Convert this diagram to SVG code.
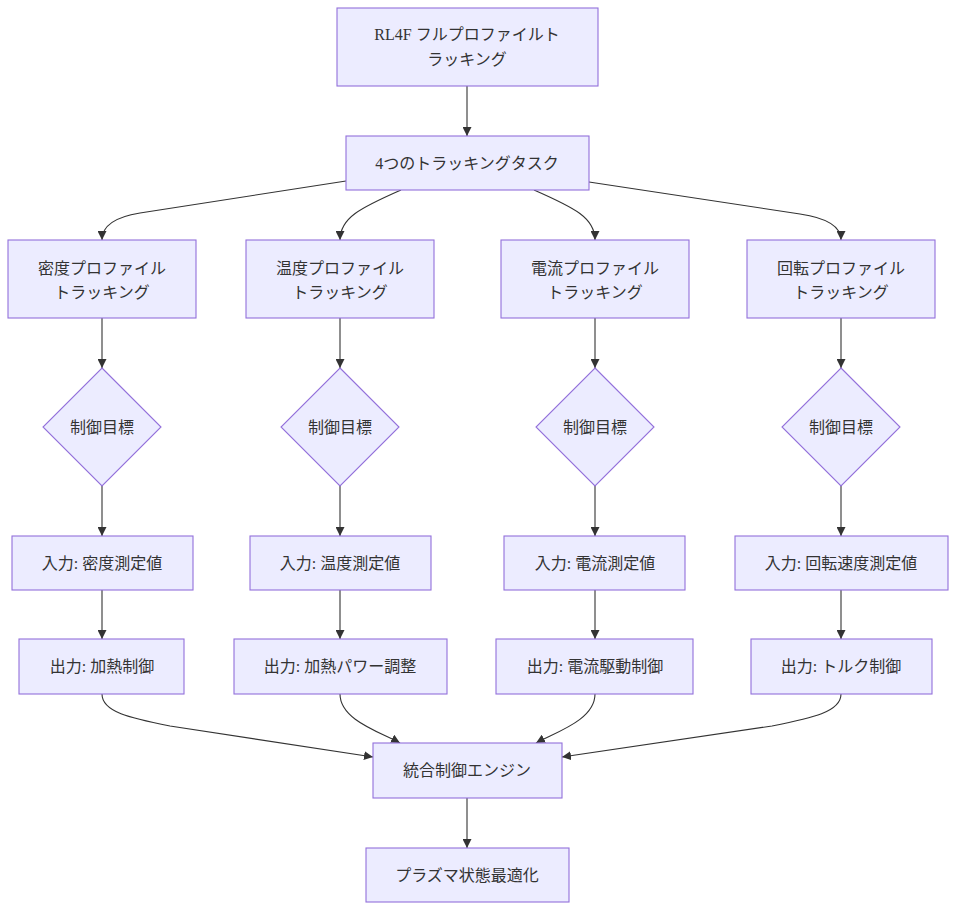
<svg xmlns="http://www.w3.org/2000/svg" width="956" height="910" viewBox="0 0 956 910">
<style>
.n{fill:#ECECFF;stroke:#9370DB;stroke-width:1.1}
.t{font-family:"Liberation Serif","Noto Sans CJK JP",serif;font-size:16px;fill:#333;text-anchor:middle;dominant-baseline:central}
.e{fill:none;stroke:#333;stroke-width:1.1;marker-end:url(#arr)}
</style>
<defs>
<marker id="arr" viewBox="0 0 10 10" refX="10" refY="5" markerUnits="userSpaceOnUse" markerWidth="9" markerHeight="9" orient="auto">
<path d="M0,0 L10,5 L0,10 z" fill="#333"/>
</marker>
</defs>
<rect width="956" height="910" fill="#fff"/>
<g id="edges">
<path class="e" d="M467,86 L467,136"/>
<path class="e" d="M346,181 L140,213 Q102,219 102,240"/>
<path class="e" d="M401,190 C360,208 340,218 340,240"/>
<path class="e" d="M534,190 C575,208 595,218 595,240"/>
<path class="e" d="M589,182 L800,214 Q841,220 841,240"/>
<path class="e" d="M102,318 L102,368"/>
<path class="e" d="M340,318 L340,368"/>
<path class="e" d="M595,318 L595,368"/>
<path class="e" d="M841,318 L841,368"/>
<path class="e" d="M102,486 L102,536"/>
<path class="e" d="M340,486 L340,536"/>
<path class="e" d="M595,486 L595,536"/>
<path class="e" d="M841,486 L841,536"/>
<path class="e" d="M102,590 L102,639"/>
<path class="e" d="M340,590 L340,639"/>
<path class="e" d="M595,590 L595,639"/>
<path class="e" d="M841,590 L841,639"/>
<path class="e" d="M102,694 C102,712 130,718 170,726 L373,757"/>
<path class="e" d="M340,694 C340,720 380,732 400,743"/>
<path class="e" d="M595,694 C595,720 556,732 536,743"/>
<path class="e" d="M841,694 C841,712 812,718 772,726 L562,757"/>
<path class="e" d="M467,798 L467,848"/>
</g>
<g id="top"><rect class="n" x="337" y="8" width="261" height="78"/><text class="t" x="467" y="34">RL4F フルプロファイルト</text><text class="t" x="467" y="59">ラッキング</text></g>
<g id="tasks"><rect class="n" x="346" y="136" width="243" height="54"/><text class="t" x="467" y="163">4つのトラッキングタスク</text></g>
<g id="trackA"><rect class="n" x="8" y="240" width="188" height="78"/><text class="t" x="102" y="268">密度プロファイル</text><text class="t" x="102" y="292">トラッキング</text></g>
<g id="trackB"><rect class="n" x="246" y="240" width="188" height="78"/><text class="t" x="340" y="268">温度プロファイル</text><text class="t" x="340" y="292">トラッキング</text></g>
<g id="trackC"><rect class="n" x="501" y="240" width="188" height="78"/><text class="t" x="595" y="268">電流プロファイル</text><text class="t" x="595" y="292">トラッキング</text></g>
<g id="trackD"><rect class="n" x="747" y="240" width="188" height="78"/><text class="t" x="841" y="268">回転プロファイル</text><text class="t" x="841" y="292">トラッキング</text></g>
<g id="goalA"><polygon class="n" points="102,368 161,427 102,486 43,427"/><text class="t" x="102" y="427">制御目標</text></g>
<g id="goalB"><polygon class="n" points="340,368 399,427 340,486 281,427"/><text class="t" x="340" y="427">制御目標</text></g>
<g id="goalC"><polygon class="n" points="595,368 654,427 595,486 536,427"/><text class="t" x="595" y="427">制御目標</text></g>
<g id="goalD"><polygon class="n" points="841,368 900,427 841,486 782,427"/><text class="t" x="841" y="427">制御目標</text></g>
<g id="inA"><rect class="n" x="12" y="536" width="181" height="54"/><text class="t" x="102" y="563">入力: 密度測定値</text></g>
<g id="inB"><rect class="n" x="250" y="536" width="181" height="54"/><text class="t" x="340" y="563">入力: 温度測定値</text></g>
<g id="inC"><rect class="n" x="504" y="536" width="181" height="54"/><text class="t" x="595" y="563">入力: 電流測定値</text></g>
<g id="inD"><rect class="n" x="735" y="536" width="213" height="54"/><text class="t" x="841" y="563">入力: 回転速度測定値</text></g>
<g id="outA"><rect class="n" x="19" y="639" width="165" height="55"/><text class="t" x="102" y="666">出力: 加熱制御</text></g>
<g id="outB"><rect class="n" x="234" y="639" width="213" height="55"/><text class="t" x="340" y="666">出力: 加熱パワー調整</text></g>
<g id="outC"><rect class="n" x="496" y="639" width="197" height="55"/><text class="t" x="595" y="666">出力: 電流駆動制御</text></g>
<g id="outD"><rect class="n" x="751" y="639" width="181" height="55"/><text class="t" x="841" y="666">出力: トルク制御</text></g>
<g id="engine"><rect class="n" x="373" y="743" width="189" height="55"/><text class="t" x="467" y="770">統合制御エンジン</text></g>
<g id="final"><rect class="n" x="366" y="848" width="203" height="54"/><text class="t" x="467" y="875">プラズマ状態最適化</text></g>
</svg>
